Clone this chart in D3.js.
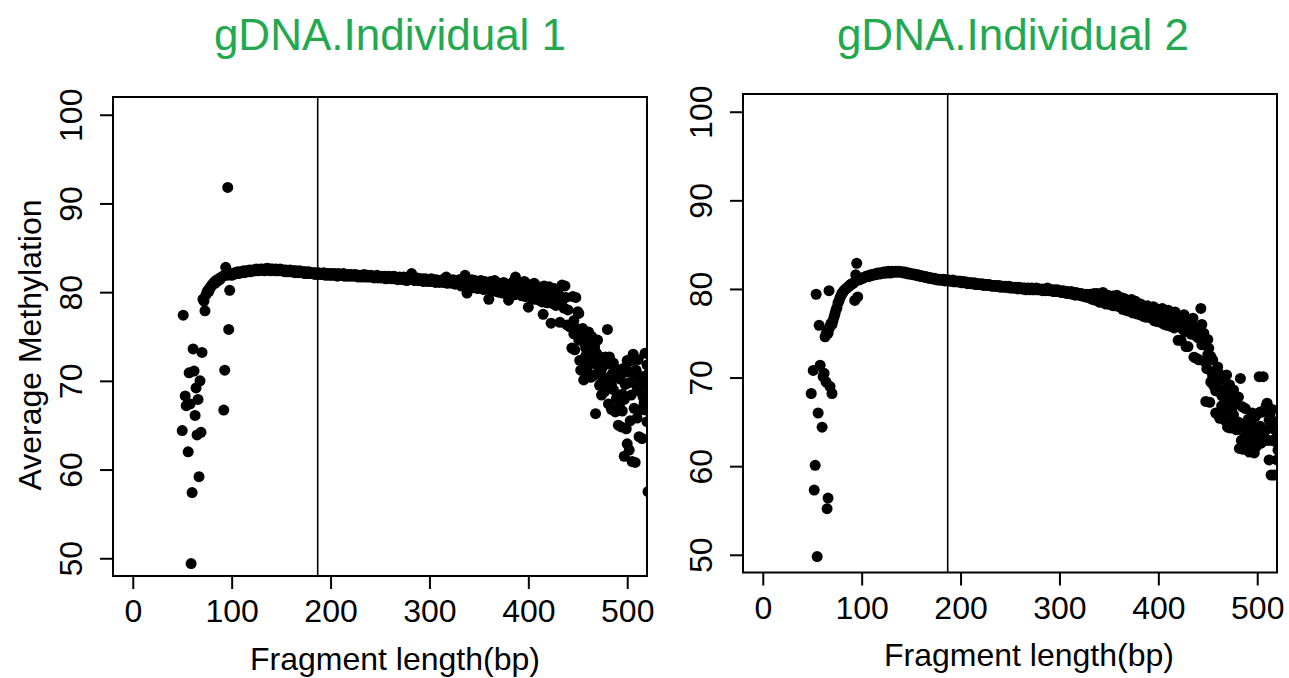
<!DOCTYPE html>
<html><head><meta charset="utf-8">
<script src="https://cdn.jsdelivr.net/npm/d3@7"></script>
<style>
body{margin:0;background:#fff;}
svg{display:block;}
text{font-family:"Liberation Sans",Arial,Helvetica,sans-serif;}
</style>
</head><body>
<svg id="chart" width="1289" height="678"></svg>
<script>
// ---------- data ----------
const xTicks = [0, 100, 200, 300, 400, 500];
const yTicks = [50, 60, 70, 80, 90, 100];
const titles = ["gDNA.Individual 1", "gDNA.Individual 2"];
const xLabel = "Fragment length(bp)";
const yLabel = "Average Methylation";
const cutoff1 = 187;
const cutoff2 = 187;

// Individual 1
const early1X = [50, 51, 53, 54, 56, 57, 58, 59, 60, 61, 62, 63, 64, 65, 66, 67, 68, 69, 70];
const early1Y = [64.4, 77.4, 68.3, 67.2, 62.0, 70.9, 67.4, 49.4, 57.4, 73.6, 71.1, 66.1, 69.2, 63.9, 67.9, 59.2, 70.0, 64.2, 73.2];
const band1Start = 71; // one value per bp from 71 to 440
const band1 = [
79.2,79.0,77.9,79.7,80.0,80.2,80.1,80.5,80.6,80.8,
80.9,81.1,81.0,81.3,81.2,81.4,81.5,81.4,81.6,81.7,
81.8,66.7,71.2,82.8,81.9,91.8,75.8,80.2,82.0,81.9,
82.1,82.0,82.2,82.1,82.2,82.3,82.1,82.2,82.3,82.2,
82.3,82.4,82.2,82.3,82.4,82.3,82.4,82.5,82.3,82.4,
82.5,82.4,82.5,82.4,82.6,82.5,82.4,82.5,82.6,82.5,
82.6,82.5,82.4,82.6,82.5,82.7,82.5,82.6,82.4,82.6,
82.5,82.6,82.5,82.4,82.6,82.5,82.4,82.5,82.6,82.4,
82.5,82.4,82.5,82.3,82.5,82.4,82.3,82.4,82.5,82.3,
82.4,82.3,82.4,82.2,82.4,82.3,82.2,82.3,82.4,82.2,
82.3,82.2,82.3,82.1,82.3,82.2,82.1,82.3,82.2,82.1,
82.2,82.1,82.2,82.0,82.2,82.1,82.0,82.2,82.1,82.0,
82.1,82.0,82.2,82.1,81.9,82.1,82.0,82.1,81.9,82.0,
82.1,81.9,82.0,82.1,81.9,82.0,81.8,82.1,82.0,81.9,
82.0,81.9,82.1,81.8,82.0,81.9,81.8,82.0,81.9,81.8,
82.0,81.9,81.8,81.9,82.0,81.8,81.9,81.7,81.9,81.8,
81.9,81.7,81.8,82.0,81.8,81.7,81.9,81.8,81.7,81.8,
81.9,81.7,81.8,81.6,81.8,81.7,81.9,81.6,81.8,81.7,
81.6,81.8,81.7,81.6,81.8,81.5,81.7,81.6,81.8,81.6,
81.7,81.5,81.6,81.8,81.5,81.7,81.6,81.4,81.6,81.7,
81.5,81.6,81.4,81.7,81.5,81.6,81.3,81.5,81.6,81.4,
81.5,82.1,81.4,81.6,81.3,81.5,81.4,81.6,81.3,81.5,
81.4,81.3,81.5,81.2,81.4,81.5,81.3,81.4,81.2,81.4,
81.3,81.5,81.2,81.4,81.3,81.1,81.4,81.2,81.3,81.1,
81.3,81.2,81.4,81.1,81.3,81.2,81.7,81.0,81.2,81.3,
81.1,81.3,81.0,81.4,81.1,80.9,81.3,81.0,81.2,81.4,
81.3,80.7,81.2,80.8,81.4,81.9,80.6,79.9,81.3,80.7,
81.2,80.6,81.4,80.8,80.5,81.3,80.7,81.1,80.4,81.2,
80.6,81.3,80.5,81.0,80.3,81.2,80.8,80.4,81.1,79.2,
80.5,81.2,80.2,80.9,80.4,81.3,80.1,80.8,80.6,80.0,
81.0,80.3,80.8,79.9,81.1,80.4,80.0,80.9,80.2,79.1,
80.9,79.8,80.6,80.2,81.2,79.7,81.7,80.5,79.9,80.8,
80.0,81.0,79.6,80.7,80.1,81.2,79.5,80.4,80.9,78.3,
79.8,80.8,79.4,80.5,79.9,81.0,79.2,80.3,79.7,80.6,
79.1,80.4,79.6,78.9,77.5,80.7,79.3,80.1,78.8,80.2,
80.6,79.0,76.5,79.8,78.7,80.4,79.3,78.5,80.0,79.1,
79.7,76.6,78.6,80.8,79.2,78.2,80.7,79.4,76.3,78.0
];
const tail1X = [442,444,445,446,447,448,449,450,451,452,453,454,455,456,457,458,459,460,461,462,463,464,465,466,467,468,469,470,471,472,473,474,475,476,477,478,479,480,481,482,483,484,485,486,487,488,489,490,491,492,493,494,495,496,497,498,499,500,501,502,503,504,505,506,507,508,509,510,511,512,513,514,515,516,517,518,519,520,521,522,
448,500,446,451,455,458,460,463,465,468,471,474,476,479,481,484,486,489,491,494,497,499,502,505,508,511,513,516,518,520,522,495,503,510];
const tail1Y = [76.1,73.7,79.5,75.3,73.5,79.4,75.9,77.8,77.6,72.3,71.2,74.8,72.3,70.1,74.2,73.7,71.5,71.0,75.5,72.3,73.0,75.0,72.0,70.6,73.8,66.3,73.1,74.6,71.0,69.5,69.6,68.4,70.5,72.0,68.8,72.7,70.1,75.8,67.4,72.7,70.0,66.8,70.8,69.0,71.5,66.5,68.0,71.2,65.0,67.2,70.2,64.8,68.5,71.4,61.5,69.6,64.6,62.9,72.1,62.2,71.0,68.4,60.9,73.0,66.9,60.8,71.2,69.3,68.9,63.7,66.7,69.9,63.5,70.5,67.5,73.1,66.7,71.8,57.5,68.5,
75.5,72.3,76.8,74.6,75.9,72.8,73.9,70.4,74.1,71.9,72.8,71.3,69.3,71.9,70.0,69.6,72.0,70.6,68.3,70.9,67.9,71.0,69.8,72.3,70.5,72.4,70.2,68.2,69.4,65.4,70.9,66.6,65.5,65.8];

// Individual 2
const early2X = [49, 51, 52, 53, 54, 55, 56, 57, 58, 60, 61, 62, 64, 65, 66, 67, 68, 70];
const early2Y = [68.2, 70.8, 57.3, 60.1, 79.4, 49.8, 66.0, 75.9, 71.4, 64.4, 70.1, 70.5, 69.5, 55.2, 56.4, 79.8, 69.0, 68.2];
const band2Start = 63; // one value per bp from 63 to 440
const band2 = [
74.6,74.9,75.2,75.0,75.5,75.8,76.1,76.0,
76.4,76.8,77.2,77.6,77.9,78.4,78.6,79.0,79.2,79.5,
79.6,79.8,79.9,80.0,80.1,80.2,80.3,80.4,80.5,80.6,
80.6,80.7,78.7,81.6,82.9,79.1,81.0,81.1,81.1,81.2,
81.2,81.3,81.3,81.4,81.4,81.5,81.4,81.5,81.6,81.5,
81.6,81.6,81.7,81.6,81.7,81.8,81.7,81.8,81.7,81.8,
81.8,81.9,81.8,81.9,81.8,81.9,82.0,81.9,81.8,81.9,
82.0,81.9,81.9,82.0,81.9,82.0,81.9,82.0,81.9,81.9,
81.9,81.9,81.8,81.9,81.8,81.8,81.7,81.8,81.7,81.7,
81.7,81.6,81.7,81.6,81.6,81.5,81.6,81.5,81.5,81.4,
81.5,81.4,81.4,81.3,81.4,81.3,81.3,81.2,81.3,81.2,
81.2,81.2,81.1,81.2,81.1,81.1,81.0,81.1,81.0,81.1,
81.0,81.0,81.1,80.9,81.0,81.0,80.9,81.0,80.9,80.9,
80.9,81.0,80.8,80.9,80.8,80.9,80.8,80.8,80.9,80.8,
80.7,80.8,80.8,80.7,80.8,80.7,80.6,80.7,80.7,80.6,
80.7,80.6,80.6,80.7,80.5,80.6,80.6,80.5,80.6,80.5,
80.5,80.6,80.4,80.5,80.5,80.4,80.5,80.4,80.5,80.4,
80.4,80.3,80.4,80.4,80.3,80.4,80.3,80.3,80.4,80.2,
80.3,80.3,80.2,80.3,80.2,80.3,80.2,80.2,80.3,80.1,
80.2,80.2,80.1,80.2,80.1,80.2,80.1,80.0,80.2,80.1,
80.1,80.0,80.1,80.0,80.1,79.9,80.0,80.1,80.0,79.9,
80.0,80.1,79.9,80.0,79.9,80.0,80.1,79.9,80.0,79.9,
79.9,80.0,79.8,79.9,80.0,79.8,79.9,80.1,79.8,79.9,
79.8,79.9,79.8,79.7,79.9,79.8,79.7,79.9,79.8,79.7,
79.8,79.6,79.7,79.8,79.6,79.7,79.5,79.7,79.6,79.5,
79.6,79.7,79.4,79.6,79.5,79.3,79.6,79.4,79.5,79.3,
79.4,79.5,79.2,79.4,79.3,79.1,79.4,79.2,79.3,79.0,
79.4,78.9,79.3,78.8,79.5,78.9,78.7,79.5,79.0,78.8,
78.5,79.3,78.8,79.6,78.5,79.1,78.3,78.9,79.3,78.4,
79.0,78.2,78.8,79.2,78.1,78.9,78.3,79.3,78.5,78.0,
78.8,78.1,79.0,77.7,78.6,78.9,77.6,78.7,78.1,77.5,
78.6,77.7,78.8,77.3,78.3,77.5,78.6,77.2,78.2,77.5,
77.1,78.3,77.4,78.1,76.9,78.0,77.2,76.8,78.1,77.3,
76.9,77.9,76.7,77.6,78.0,76.4,77.5,76.8,76.3,77.7,
76.7,77.5,76.2,77.8,76.6,76.0,77.4,76.5,75.9,77.6,
76.4,75.8,77.2,76.1,77.0,75.6,77.4,76.0,76.6,74.2,
75.8,76.9,74.2,76.5,75.4,77.1,75.2,73.5,76.3,73.5,
75.6,76.5,74.9,75.9,76.7,72.3,74.8,72.2,75.6,74.5
];
const tail2X = [441,442,443,444,445,446,447,448,449,450,451,452,453,454,455,456,457,458,459,460,461,462,463,464,465,466,467,468,469,470,471,472,473,474,475,476,477,478,479,480,481,482,483,484,485,486,487,488,489,490,491,492,493,494,495,496,497,498,499,500,502,503,504,505,506,507,508,509,510,511,512,513,514,515,516,517,518,519,520,521,
444,447,450,453,455,458,461,464,467,470,473,476,479,482,485,488,491,494,497,500,503,506,509,512,515,518,521];
const tail2Y = [72.0,74.6,77.8,73.7,73.9,75.0,71.8,67.3,71.0,74.3,73.3,67.2,72.4,70.6,70.1,69.1,70.1,66.0,69.6,71.2,68.8,65.4,69.8,66.8,70.1,65.9,65.2,68.3,70.3,64.4,67.4,69.2,64.3,66.3,68.0,68.6,65.0,67.6,64.1,65.0,67.8,62.0,69.9,62.9,66.7,61.9,63.3,66.5,62.0,63.7,65.3,61.6,64.5,62.6,66.0,63.2,61.5,65.6,62.2,64.0,70.1,66.1,62.6,66.1,70.1,62.9,66.3,64.1,67.1,62.9,60.7,65.9,59.0,62.9,64.8,59.0,62.8,65.0,60.7,63.5,
76.0,74.2,72.6,69.5,72.0,68.5,70.5,68.0,67.6,68.9,66.8,65.8,67.0,64.9,64.4,64.8,63.1,65.0,64.2,65.9,64.5,63.4,66.8,65.2,66.4,64.1,61.8];

// ---------- drawing ----------
const svg = d3.select("#chart");
svg.append("rect").attr("width", 1289).attr("height", 678).attr("fill", "#fff");

const panels = [
  { id: 1, title: titles[0], left: 113, right: 647, top: 97, bottom: 576, titleX: 390, titleY: 50,
    xlabX: 395, xlabY: 670, showY: true,
    earlyX: early1X, earlyY: early1Y, bandStart: band1Start, band: band1, tailX: tail1X, tailY: tail1Y, cutoff: cutoff1 },
  { id: 2, title: titles[1], left: 743, right: 1277, top: 94, bottom: 572.5, titleX: 1013, titleY: 50,
    xlabX: 1029, xlabY: 666, showY: false,
    earlyX: early2X, earlyY: early2Y, bandStart: band2Start, band: band2, tailX: tail2X, tailY: tail2Y, cutoff: cutoff2 }
];

panels.forEach(p => {
  const x = d3.scaleLinear().domain([-20, 520]).range([p.left, p.right]);
  const y = d3.scaleLinear().domain([48, 102]).range([p.bottom, p.top]);

  const pts = [];
  p.earlyX.forEach((v, i) => pts.push([v, p.earlyY[i]]));
  p.band.forEach((v, i) => pts.push([p.bandStart + i, v]));
  p.tailX.forEach((v, i) => pts.push([v, p.tailY[i]]));

  const clipId = "clip" + p.id;
  svg.append("clipPath").attr("id", clipId).append("rect")
    .attr("x", p.left).attr("y", p.top)
    .attr("width", p.right - p.left).attr("height", p.bottom - p.top);

  const g = svg.append("g");

  g.append("g").attr("clip-path", `url(#${clipId})`)
    .selectAll("circle").data(pts).join("circle")
    .attr("cx", d => x(d[0])).attr("cy", d => y(d[1]))
    .attr("r", 5.5).attr("fill", "#000");

  // vertical cutoff line
  g.append("line")
    .attr("x1", x(p.cutoff)).attr("x2", x(p.cutoff))
    .attr("y1", p.top).attr("y2", p.bottom)
    .attr("stroke", "#000").attr("stroke-width", 1.6);

  // box
  g.append("rect").attr("x", p.left).attr("y", p.top)
    .attr("width", p.right - p.left).attr("height", p.bottom - p.top)
    .attr("fill", "none").attr("stroke", "#000").attr("stroke-width", 2);

  // x axis
  const xa = d3.axisBottom(x).tickValues(xTicks).tickSize(13).tickPadding(11).tickFormat(d3.format("d"));
  const gx = g.append("g").attr("transform", `translate(0,${p.bottom})`).call(xa);
  gx.select(".domain").remove();
  gx.selectAll(".tick line").attr("stroke", "#000").attr("stroke-width", 2);
  gx.selectAll(".tick text").attr("font-size", 32).attr("fill", "#000")
    .attr("font-family", '"Liberation Sans", Arial, sans-serif')
    .attr("dy", null).attr("y", 46);

  // y axis
  const ya = d3.axisLeft(y).tickValues(yTicks).tickSize(13).tickFormat(d3.format("d"));
  const gy = g.append("g").attr("transform", `translate(${p.left},0)`).call(ya);
  gy.select(".domain").remove();
  gy.selectAll(".tick line").attr("stroke", "#000").attr("stroke-width", 2);
  gy.selectAll(".tick text")
    .attr("font-size", 32).attr("fill", "#000")
    .attr("font-family", '"Liberation Sans", Arial, sans-serif')
    .attr("x", null).attr("dy", null)
    .attr("text-anchor", "middle")
    .attr("transform", "translate(-31,0) rotate(-90)");

  // title
  svg.append("text").attr("x", p.titleX).attr("y", p.titleY)
    .attr("text-anchor", "middle").attr("font-size", 44).attr("fill", "#22a84f")
    .text(p.title);

  // x label
  svg.append("text").attr("x", p.xlabX).attr("y", p.xlabY)
    .attr("text-anchor", "middle").attr("font-size", 32).attr("fill", "#000")
    .text(xLabel);

  if (p.showY) {
    svg.append("text").attr("transform", "translate(41,345) rotate(-90)")
      .attr("text-anchor", "middle").attr("font-size", 32).attr("fill", "#000")
      .text(yLabel);
  }
});
</script>
</body></html>
